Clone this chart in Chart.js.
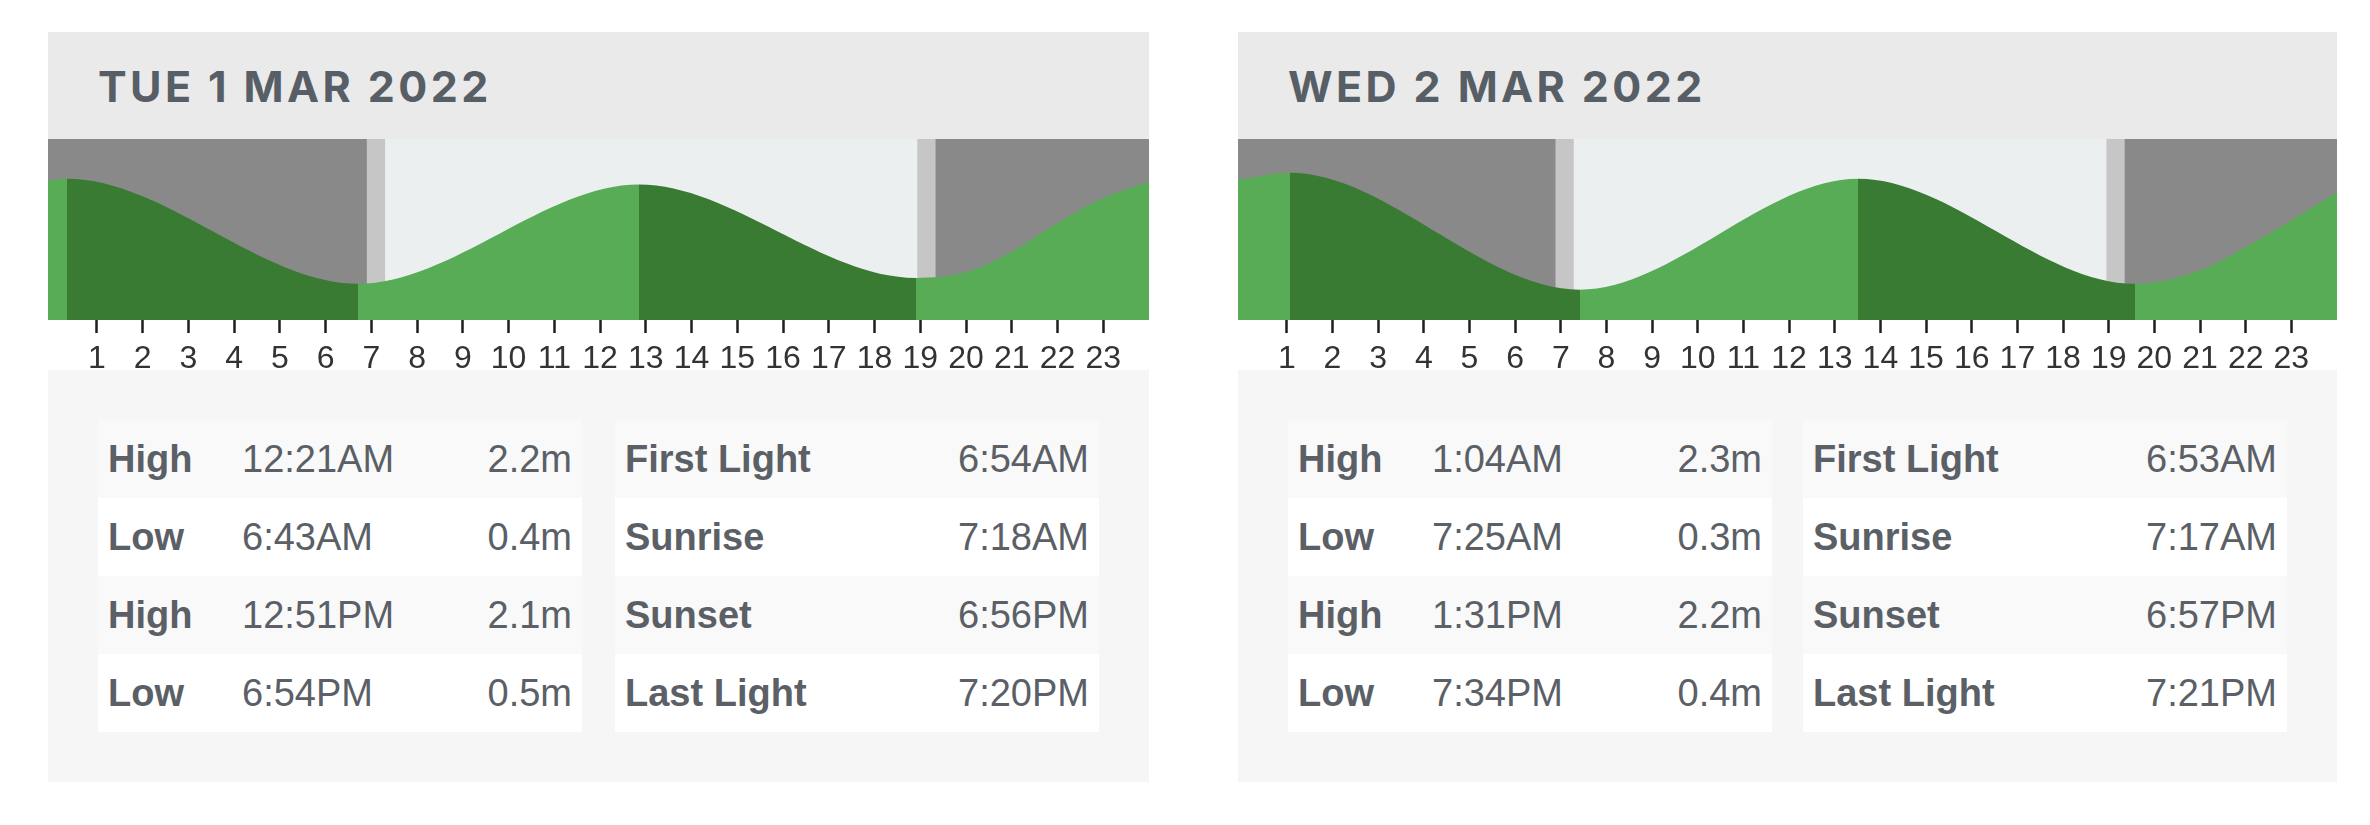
<!DOCTYPE html>
<html>
<head>
<meta charset="utf-8">
<title>Tide times</title>
<script src="https://cdn.jsdelivr.net/npm/chart.js@4.4.0/dist/chart.umd.min.js"></script>
<style>
body { margin:0; background:#fff; width:2370px; height:825px; position:relative; overflow:hidden;
       font-family:"Liberation Sans", Arial, sans-serif; color:#5b6067; }
.panel { position:absolute; top:32px; height:750px; }
.head { position:absolute; left:0; top:0; width:100%; height:107px; background:#eaeaea; }
.head h2 { position:absolute; left:50px; top:33px; margin:0; font:700 43px/42px Inter, "Open Sans", sans-serif;
           letter-spacing:3.4px; color:#585e66; white-space:nowrap; }
.plot { position:absolute; left:0; top:107px; width:100%; height:231px; }
.info { position:absolute; left:0; top:338px; width:100%; height:412px; background:#f6f6f6; }
.tbl { position:absolute; top:50px; width:484px; }
.row { height:78px; display:flex; align-items:center; padding:0 10px; font-size:38px; box-sizing:border-box; }
.row:nth-child(odd) { background:#f9f9f9; }
.row:nth-child(even) { background:#fff; }
.row .k { font-weight:700; width:134px; }
.row .t { flex:1; }
.row .v { text-align:right; }
</style>
</head>
<body>
<script>
// tide data, one set of arrays per day
var dayTitles = ['TUE 1 MAR 2022', 'WED 2 MAR 2022'];

var tueTideKind = ['High', 'Low', 'High', 'Low'];
var tueTideTime = ['12:21AM', '6:43AM', '12:51PM', '6:54PM'];
var tueTideHeight = [2.2, 0.4, 2.1, 0.5];
var tueSunTime = ['6:54AM', '7:18AM', '6:56PM', '7:20PM'];
// extra readings of the curve off the picture (hour, metres)
var tueCurveHour = [-0.07, 20, 21, 22, 23, 24];
var tueCurveHeight = [2.17, 0.6, 0.95, 1.44, 1.87, 2.15];

var wedTideKind = ['High', 'Low', 'High', 'Low'];
var wedTideTime = ['1:04AM', '7:25AM', '1:31PM', '7:34PM'];
var wedTideHeight = [2.3, 0.3, 2.2, 0.4];
var wedSunTime = ['6:53AM', '7:17AM', '6:57PM', '7:21PM'];
var wedCurveHour = [-0.07, 21, 22, 23, 24];
var wedCurveHeight = [2.18, 0.63, 1.03, 1.49, 1.97];

var sunKinds = ['First Light', 'Sunrise', 'Sunset', 'Last Light'];
var hourTicks = [1, 2, 3, 4, 5, 6, 7, 8, 9, 10, 11, 12, 13, 14, 15, 16, 17, 18, 19, 20, 21, 22, 23];

var hourMin = -0.07, hourMax = 24;
var yMin = -0.22, yMax = 2.88;

var rising = '#58ac56';
var falling = '#3a7b34';
var nightColor = '#898989';
var twilightColor = '#c6c6c6';
var dayColor = '#eceff0';

function toHour(t) {
  var m = t.match(/(\d+):(\d+)(AM|PM)/);
  var h = (+m[1]) % 12;
  if (m[3] === 'PM') h += 12;
  return h + (+m[2]) / 60;
}

function tideGradient(chart, kinds, hours) {
  var a = chart.chartArea;
  if (!a) return rising;
  var x = chart.scales.x;
  var g = chart.ctx.createLinearGradient(a.left, 0, a.right, 0);
  var frac = function(h) { return Math.min(1, Math.max(0, (x.getPixelForValue(h) - a.left) / a.width)); };
  var prev = 0;
  kinds.forEach(function(k, i) {
    // colour of the stretch leading up to this turn of the tide
    var col = k === 'High' ? rising : falling;
    var f = frac(hours[i]);
    g.addColorStop(prev, col);
    g.addColorStop(f, col);
    prev = f;
  });
  var last = kinds[kinds.length - 1] === 'High' ? falling : rising;
  g.addColorStop(prev, last);
  g.addColorStop(1, last);
  return g;
}

function daylightPlugin(sunHour) {
  return {
    id: 'daylight',
    beforeDatasetsDraw: function(chart) {
      var ctx = chart.ctx, a = chart.chartArea, x = chart.scales.x;
      var px = function(h) { return x.getPixelForValue(h); };
      ctx.save();
      ctx.fillStyle = nightColor;
      ctx.fillRect(a.left, a.top, a.width, a.height);
      ctx.fillStyle = twilightColor;
      ctx.fillRect(px(sunHour[0]), a.top, px(sunHour[3]) - px(sunHour[0]), a.height);
      ctx.fillStyle = dayColor;
      ctx.fillRect(px(sunHour[1]), a.top, px(sunHour[2]) - px(sunHour[1]), a.height);
      ctx.restore();
    }
  };
}

function makePanel(left, width, title, tideKind, tideTime, tideHeight, sunTime, curveHour, curveHeight) {
  var panel = document.createElement('div');
  panel.className = 'panel';
  panel.style.left = left + 'px';
  panel.style.width = width + 'px';

  var tideRows = tideKind.map(function(k, i) {
    return '<div class="row"><span class="k">' + k + '</span><span class="t">' + tideTime[i] +
           '</span><span class="v">' + tideHeight[i].toFixed(1) + 'm</span></div>';
  }).join('');
  var sunRows = sunKinds.map(function(k, i) {
    return '<div class="row"><span class="k" style="flex:1">' + k + '</span><span class="v">' + sunTime[i] + '</span></div>';
  }).join('');

  panel.innerHTML =
    '<div class="head"><h2>' + title + '</h2></div>' +
    '<div class="plot"><canvas></canvas></div>' +
    '<div class="info"><div class="tbl" style="left:50px">' + tideRows + '</div>' +
    '<div class="tbl" style="left:' + (width - 534) + 'px">' + sunRows + '</div></div>';
  document.body.appendChild(panel);

  var tideHour = tideTime.map(toHour);
  var pts = tideHour.map(function(h, i) { return { x: h, y: tideHeight[i] }; })
    .concat(curveHour.map(function(h, i) { return { x: h, y: curveHeight[i] }; }))
    .sort(function(p, q) { return p.x - q.x; });
  var sunHour = sunTime.map(toHour);

  new Chart(panel.querySelector('canvas'), {
    type: 'line',
    data: {
      datasets: [{
        data: pts,
        fill: 'start',
        borderWidth: 0,
        borderColor: 'transparent',
        pointRadius: 0,
        cubicInterpolationMode: 'monotone',
        backgroundColor: function(c) { return tideGradient(c.chart, tideKind, tideHour); }
      }]
    },
    options: {
      responsive: true,
      maintainAspectRatio: false,
      animation: false,
      events: [],
      layout: { padding: 0 },
      plugins: { legend: { display: false }, tooltip: { enabled: false } },
      scales: {
        x: {
          type: 'linear',
          min: hourMin,
          max: hourMax,
          afterBuildTicks: function(s) { s.ticks = hourTicks.map(function(v) { return { value: v }; }); },
          afterFit: function(s) { s.height = 50; },
          ticks: {
            autoSkip: false, maxRotation: 0, padding: 7, color: '#333',
            font: { family: '"Liberation Sans Narrow", "Liberation Sans"', size: 32 },
            callback: function(v) { return String(v); }
          },
          grid: { drawOnChartArea: false, tickLength: 13, tickColor: '#1e1e1e', tickWidth: 2.5 },
          border: { display: false }
        },
        y: { display: false, min: yMin, max: yMax }
      }
    },
    plugins: [daylightPlugin(sunHour)]
  });
}

makePanel(48, 1101, dayTitles[0], tueTideKind, tueTideTime, tueTideHeight, tueSunTime, tueCurveHour, tueCurveHeight);
makePanel(1238, 1099, dayTitles[1], wedTideKind, wedTideTime, wedTideHeight, wedSunTime, wedCurveHour, wedCurveHeight);
</script>
</body>
</html>
